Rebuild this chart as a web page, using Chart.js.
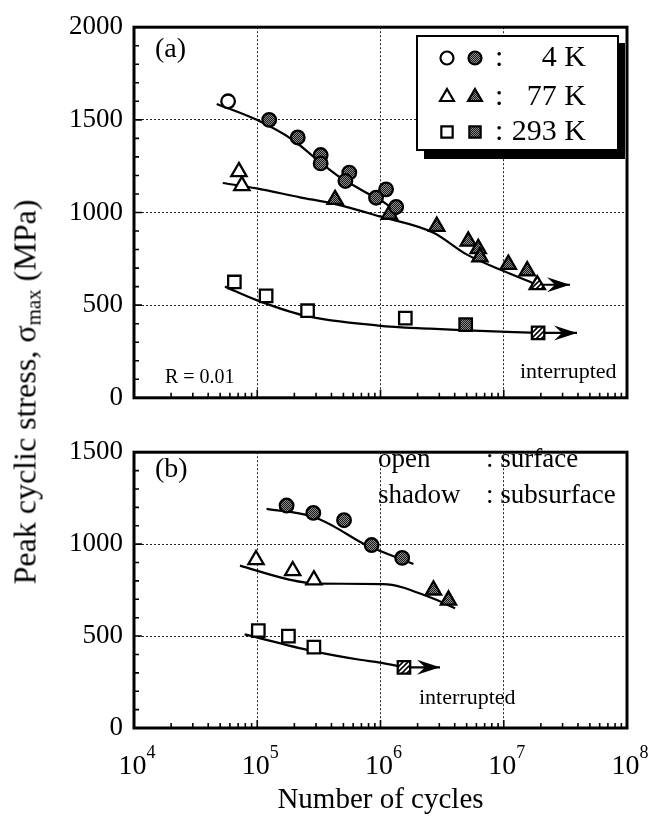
<!DOCTYPE html>
<html>
<head>
<meta charset="utf-8">
<script src="https://cdn.jsdelivr.net/npm/chart.js@4.4.0/dist/chart.umd.min.js"></script>
<style>
  html, body { margin: 0; padding: 0; background: #fff; }
  #wrap { position: relative; width: 648px; height: 827px; font-family: "Liberation Serif", "Times New Roman", serif; }
  #boxA { position: absolute; left: 0; top: 0; width: 648px; height: 425px; }
  #boxB { position: absolute; left: 0; top: 425px; width: 648px; height: 402px; }
  #ytitle {
    position: absolute; left: 25px; top: 392px; white-space: nowrap; font-size: 32px; color: #000;
    transform: translate(-50%, -50%) rotate(-90deg);
  }
  #ytitle span { font-size: 21px; position: relative; top: 5px; }
</style>
</head>
<body>
<div id="wrap">
  <div id="boxA"><canvas id="chartA"></canvas></div>
  <div id="boxB"><canvas id="chartB"></canvas></div>
  <div id="ytitle">Peak cyclic stress, σ<span>max</span> (MPa)</div>
</div>
<script>
// ---- axes ----
const decades = [1e4, 1e5, 1e6, 1e7, 1e8];
const yTicksA = [0, 500, 1000, 1500, 2000];
const yTicksB = [0, 500, 1000, 1500];

// ---- panel (a): cycles N and stress (MPa) ----
const a4kOpenN = [5.8e4];
const a4kOpenS = [1600];
const a4kFillN = [1.25e5, 2.13e5, 3.27e5, 3.27e5, 5.58e5, 5.19e5, 1.11e6, 9.2e5, 1.34e6];
const a4kFillS = [1500, 1405, 1310, 1265, 1215, 1170, 1125, 1080, 1030];
const a4kFitN = [4.69e4, 9.9e4, 1.96e5, 3.03e5, 4.42e5, 7.24e5, 1.19e6, 1.36e6];
const a4kFitS = [1586, 1500, 1390, 1287, 1202, 1116, 1031, 985];

const a77kOpenN = [7.1e4, 7.5e4];
const a77kOpenS = [1220, 1145];
const a77kFillN = [4.28e5, 1.18e6, 2.86e6, 5.15e6, 6.21e6, 6.41e6, 1.09e7, 1.55e7];
const a77kFillS = [1070, 990, 925, 845, 805, 760, 720, 685];
const a77kRunN = [1.87e7];
const a77kRunS = [610];
const a77kFitN = [5.25e4, 9.89e4, 2.22e5, 4.14e5, 9.9e5, 2.69e6, 4.99e6, 9.33e6, 1.87e7];
const a77kFitS = [1159, 1130, 1082, 1048, 979, 891, 774, 692, 610];
const a77kArrowN = [1.87e7, 3.45e7];
const a77kArrowS = [610, 610];

const a293kOpenN = [6.52e4, 1.18e5, 2.56e5, 1.59e6];
const a293kOpenS = [625, 550, 470, 430];
const a293kFillN = [4.91e6];
const a293kFillS = [395];
const a293kRunN = [1.9e7];
const a293kRunS = [350];
const a293kFitN = [5.47e4, 9.89e4, 2.37e5, 9.6e5, 2.52e6, 4.99e6, 1.9e7];
const a293kFitS = [600, 527, 445, 390, 373, 364, 350];
const a293kArrowN = [1.9e7, 3.93e7];
const a293kArrowS = [350, 350];

// ---- panel (b) ----
const b4kFillN = [1.73e5, 2.85e5, 5.06e5, 8.47e5, 1.5e6];
const b4kFillS = [1210, 1170, 1130, 995, 925];
const b4kFitN = [1.19e5, 2.85e5, 4.14e5, 7.24e5, 1.85e6];
const b4kFitS = [1192, 1149, 1098, 1003, 892];

const b77kOpenN = [9.77e4, 1.94e5, 2.88e5];
const b77kOpenS = [915, 855, 805];
const b77kFillN = [2.69e6, 3.56e6];
const b77kFillS = [750, 695];
const b77kFitN = [7.24e4, 1.85e5, 3.03e5, 1.05e6, 2.52e6, 4.03e6];
const b77kFitS = [883, 806, 785, 783, 711, 651];

const b293kOpenN = [1.02e5, 1.79e5, 2.88e5];
const b293kOpenS = [530, 500, 440];
const b293kRunN = [1.55e6];
const b293kRunS = [330];
const b293kFitN = [7.9e4, 2.82e5, 6.8e5, 9.9e5, 1.55e6];
const b293kFitS = [509, 418, 371, 356, 330];
const b293kArrowN = [1.55e6, 3.04e6];
const b293kArrowS = [330, 330];

const serif = "'Liberation Serif', 'Times New Roman', serif";
Chart.defaults.font.family = serif;
Chart.defaults.color = '#000';

function pts(n, s) { return n.map((v, i) => ({ x: v, y: s[i] })); }

function makeStipple() {
  const c = document.createElement('canvas');
  c.width = 2; c.height = 2;
  const g = c.getContext('2d');
  g.fillStyle = '#1a1a1a'; g.fillRect(0, 0, 2, 2);
  g.fillStyle = '#8c8c8c'; g.fillRect(0, 0, 1, 1); g.fillRect(1, 1, 1, 1);
  return g.createPattern(c, 'repeat');
}
function makeHatch() {
  const c = document.createElement('canvas');
  c.width = 5; c.height = 5;
  const g = c.getContext('2d');
  g.fillStyle = '#fff'; g.fillRect(0, 0, 5, 5);
  g.strokeStyle = '#000'; g.lineWidth = 1.6;
  g.beginPath();
  g.moveTo(-1, 6); g.lineTo(6, -1);
  g.moveTo(-1, 1); g.lineTo(1, -1);
  g.moveTo(4, 6); g.lineTo(6, 4);
  g.stroke();
  return g.createPattern(c, 'repeat');
}
const stipple = makeStipple();
const hatch = makeHatch();

const sizes = { circle: 6.8, triangle: 8.8, rect: 8.8 };

function marks(n, s, style, fill) {
  return {
    data: pts(n, s), pointStyle: style, pointRadius: sizes[style],
    backgroundColor: fill, borderColor: '#000', pointBorderWidth: 2.3, showLine: false, order: 1
  };
}
function fit(n, s) {
  return {
    data: pts(n, s), showLine: true, pointRadius: 0, borderColor: '#000',
    borderWidth: 2.2, cubicInterpolationMode: 'monotone', order: 2
  };
}
function arrow(n, s) {
  return {
    data: pts(n, s), showLine: true, pointRadius: 0, borderColor: '#000',
    borderWidth: 2.2, arrow: true, order: 2
  };
}

function xScale(height, showTitle) {
  return {
    type: 'logarithmic', min: 1e4, max: 1e8,
    afterBuildTicks: s => { s.ticks = decades.map(v => ({ value: v, major: true })); },
    afterFit: s => { s.height = height; },
    ticks: { display: false },
    grid: { color: '#222', lineWidth: 1, drawTicks: false },
    border: { display: false, dash: [2, 2] },
    title: {
      display: showTitle, text: 'Number of cycles',
      font: { size: 29 }, color: '#000', padding: { top: 0, bottom: 9 }
    }
  };
}
function yScale(ticks) {
  return {
    min: ticks[0], max: ticks[ticks.length - 1],
    afterBuildTicks: s => { s.ticks = ticks.map(v => ({ value: v })); },
    afterFit: s => { s.width = 134; },
    ticks: { font: { size: 27 }, color: '#000', padding: 11, callback: v => String(v) },
    grid: { color: '#222', lineWidth: 1, drawTicks: false },
    border: { display: false, dash: [2, 2] }
  };
}

// frame + inward tick marks
const frame = {
  id: 'frame',
  afterDraw(chart) {
    const { ctx, chartArea: a, scales: { x, y } } = chart;
    ctx.save();
    ctx.strokeStyle = '#000';
    ctx.lineWidth = 1.6;
    ctx.beginPath();
    for (let v = y.min; v <= y.max; v += 100) {
      const py = y.getPixelForValue(v);
      ctx.moveTo(a.left, py); ctx.lineTo(a.left + (v % 500 === 0 ? 8 : 5), py);
    }
    for (let e = 4; e < 8; e++) {
      for (let m = 1; m <= 9; m++) {
        const px = x.getPixelForValue(m * Math.pow(10, e));
        ctx.moveTo(px, a.bottom); ctx.lineTo(px, a.bottom - (m === 1 ? 8 : 5));
      }
    }
    ctx.stroke();
    ctx.lineWidth = 3;
    ctx.strokeRect(a.left, a.top, a.width, a.height);
    ctx.restore();
  }
};

// arrowheads at the end of runout lines
const arrowHeads = {
  id: 'arrowHeads',
  afterDatasetsDraw(chart) {
    const ctx = chart.ctx;
    chart.data.datasets.forEach((ds, i) => {
      if (!ds.arrow) return;
      const els = chart.getDatasetMeta(i).data;
      const tip = els[els.length - 1];
      ctx.save();
      ctx.fillStyle = '#000';
      ctx.beginPath();
      ctx.moveTo(tip.x, tip.y);
      ctx.lineTo(tip.x - 23, tip.y - 7.5);
      ctx.lineTo(tip.x - 15, tip.y);
      ctx.lineTo(tip.x - 23, tip.y + 7.5);
      ctx.closePath();
      ctx.fill();
      ctx.restore();
    });
  }
};

function text(ctx, str, x, y, size, align) {
  ctx.font = size + 'px ' + serif;
  ctx.textAlign = align || 'left';
  ctx.textBaseline = 'alphabetic';
  ctx.fillText(str, x, y);
}

const notesA = {
  id: 'notesA',
  afterDraw(chart) {
    const ctx = chart.ctx;
    const dp = Chart.helpers.drawPoint;
    ctx.save();
    ctx.fillStyle = '#000';
    text(ctx, '(a)', 155, 57, 28);
    text(ctx, 'R = 0.01', 165, 383, 20);
    text(ctx, 'interrupted', 520, 378, 22);
    // legend box with drop shadow
    ctx.fillStyle = '#000';
    ctx.fillRect(424, 43, 201, 116);
    ctx.fillStyle = '#fff';
    ctx.fillRect(417, 36, 201, 114);
    ctx.strokeStyle = '#000'; ctx.lineWidth = 2;
    ctx.strokeRect(417, 36, 201, 114);
    const rows = [['circle', '4 K', 58, 6.5], ['triangle', '77 K', 97, 8], ['rect', '293 K', 132, 8]];
    rows.forEach(([st, lab, cy, r]) => {
      ctx.lineWidth = 2.2;
      ctx.fillStyle = '#fff';
      dp(ctx, { pointStyle: st, radius: r, borderWidth: 2.2, rotation: 0 }, 447, cy);
      ctx.fillStyle = stipple;
      dp(ctx, { pointStyle: st, radius: r, borderWidth: 2.2, rotation: 0 }, 475, cy);
      ctx.fillStyle = '#000';
      text(ctx, ':', 495, cy + 8, 30);
      text(ctx, lab, 586, cy + 8, 30, 'right');
    });
    ctx.restore();
  }
};

const notesB = {
  id: 'notesB',
  afterDraw(chart) {
    const ctx = chart.ctx;
    const { scales: { x } } = chart;
    ctx.save();
    ctx.fillStyle = '#000';
    text(ctx, '(b)', 155, 52, 28);
    text(ctx, 'open', 378, 42, 27);
    text(ctx, ': surface', 486, 42, 27);
    text(ctx, 'shadow', 378, 78, 27);
    text(ctx, ': subsurface', 486, 78, 27);
    text(ctx, 'interrupted', 419, 279, 22);
    // decade labels 10^n
    decades.forEach(v => {
      const px = x.getPixelForValue(v);
      const e = String(Math.round(Math.log10(v)));
      ctx.font = '28px ' + serif;
      const w1 = ctx.measureText('10').width;
      ctx.font = '18px ' + serif;
      const w2 = ctx.measureText(e).width;
      const x0 = px - (w1 + w2) / 2 + 3;
      text(ctx, '10', x0, 349, 28);
      text(ctx, e, x0 + w1, 333, 18);
    });
    ctx.restore();
  }
};

const common = {
  responsive: true, maintainAspectRatio: false, animation: false,
  plugins: { legend: { display: false }, tooltip: { enabled: false } }
};

new Chart(document.getElementById('chartA'), {
  type: 'scatter',
  data: {
    datasets: [
      marks(a4kOpenN, a4kOpenS, 'circle', '#fff'),
      marks(a4kFillN, a4kFillS, 'circle', stipple),
      marks(a77kOpenN, a77kOpenS, 'triangle', '#fff'),
      marks(a77kFillN, a77kFillS, 'triangle', stipple),
      marks(a77kRunN, a77kRunS, 'triangle', hatch),
      marks(a293kOpenN, a293kOpenS, 'rect', '#fff'),
      marks(a293kFillN, a293kFillS, 'rect', stipple),
      marks(a293kRunN, a293kRunS, 'rect', hatch),
      fit(a4kFitN, a4kFitS),
      fit(a77kFitN, a77kFitS),
      fit(a293kFitN, a293kFitS),
      arrow(a77kArrowN, a77kArrowS),
      arrow(a293kArrowN, a293kArrowS)
    ]
  },
  options: Object.assign({}, common, {
    layout: { padding: { top: 21, right: 21, left: 0, bottom: 0 } },
    scales: { x: xScale(14, false), y: yScale(yTicksA) }
  }),
  plugins: [frame, arrowHeads, notesA]
});

new Chart(document.getElementById('chartB'), {
  type: 'scatter',
  data: {
    datasets: [
      marks(b4kFillN, b4kFillS, 'circle', stipple),
      marks(b77kOpenN, b77kOpenS, 'triangle', '#fff'),
      marks(b77kFillN, b77kFillS, 'triangle', stipple),
      marks(b293kOpenN, b293kOpenS, 'rect', '#fff'),
      marks(b293kRunN, b293kRunS, 'rect', hatch),
      fit(b4kFitN, b4kFitS),
      fit(b77kFitN, b77kFitS),
      fit(b293kFitN, b293kFitS),
      arrow(b293kArrowN, b293kArrowS)
    ]
  },
  options: Object.assign({}, common, {
    layout: { padding: { top: 12, right: 21, left: 0, bottom: 0 } },
    scales: { x: xScale(99, true), y: yScale(yTicksB) }
  }),
  plugins: [frame, arrowHeads, notesB]
});
</script>
</body>
</html>
